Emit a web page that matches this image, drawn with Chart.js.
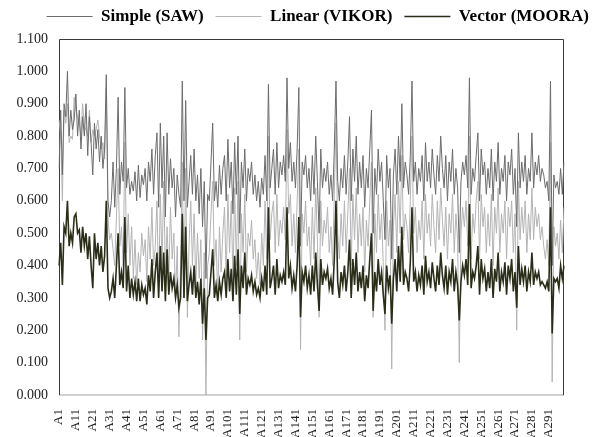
<!DOCTYPE html>
<html>
<head>
<meta charset="utf-8">
<script src="https://cdn.jsdelivr.net/npm/chart.js@4.4.1/dist/chart.umd.min.js"></script>
<style>
html,body{margin:0;padding:0;background:#fff;}
#wrap{width:593px;height:437px;}
</style>
</head>
<body>
<div id="wrap"><canvas id="c" width="593" height="437"></canvas></div>
<script>
const seriesNames = ["Simple (SAW)", "Linear (VIKOR)", "Vector (MOORA)"];
const categories = [];
for (let i = 1; i <= 300; i++) categories.push("A" + i);
const yTicks = [0, 0.1, 0.2, 0.3, 0.4, 0.5, 0.6, 0.7, 0.8, 0.9, 1.0, 1.1];

const saw = [
0.70,0.88,0.68,0.90,0.86,1.00,0.80,0.88,0.82,0.85,
0.93,0.80,0.88,0.76,0.86,0.80,0.90,0.74,0.86,0.78,
0.68,0.84,0.76,0.82,0.72,0.80,0.70,0.76,0.99,0.60,
0.55,0.60,0.72,0.58,0.70,0.92,0.62,0.72,0.66,0.95,
0.64,0.70,0.62,0.66,0.63,0.69,0.60,0.71,0.61,0.68,
0.65,0.70,0.60,0.72,0.66,0.76,0.62,0.74,0.81,0.58,
0.84,0.64,0.80,0.55,0.81,0.62,0.73,0.64,0.70,0.55,
0.68,0.62,0.58,0.97,0.60,0.91,0.58,0.66,0.74,0.62,
0.76,0.60,0.68,0.56,0.70,0.52,0.66,0.36,0.62,0.60,
0.72,0.84,0.60,0.66,0.58,0.71,0.62,0.70,0.74,0.60,
0.79,0.64,0.72,0.56,0.78,0.62,0.80,0.50,0.72,0.64,
0.76,0.60,0.70,0.66,0.72,0.62,0.68,0.60,0.66,0.58,
0.67,0.62,0.74,0.60,0.96,0.64,0.70,0.76,0.62,0.78,
0.64,0.72,0.68,0.74,0.66,0.98,0.70,0.78,0.66,0.72,
0.64,0.76,0.95,0.46,0.72,0.68,0.74,0.64,0.70,0.60,
0.74,0.62,0.80,0.66,0.50,0.76,0.64,0.70,0.66,0.72,
0.62,0.68,0.60,0.76,0.97,0.66,0.60,0.70,0.64,0.74,
0.62,0.72,0.86,0.60,0.76,0.66,0.80,0.62,0.72,0.64,
0.74,0.58,0.70,0.64,0.76,0.88,0.50,0.70,0.62,0.76,
0.66,0.72,0.60,0.48,0.74,0.64,0.70,0.42,0.68,0.76,
0.62,0.80,0.66,0.90,0.64,0.72,0.68,0.62,0.74,0.97,
0.66,0.72,0.62,0.70,0.66,0.74,0.60,0.78,0.66,0.72,
0.64,0.76,0.68,0.62,0.74,0.66,0.80,0.70,0.64,0.74,
0.60,0.72,0.66,0.76,0.62,0.70,0.64,0.44,0.66,0.72,
0.68,0.74,0.64,0.98,0.62,0.70,0.66,0.74,0.81,0.60,
0.76,0.68,0.72,0.62,0.70,0.64,0.76,0.60,0.72,0.66,
0.78,0.62,0.70,0.66,0.74,0.60,0.72,0.68,0.76,0.62,
0.70,0.52,0.81,0.64,0.72,0.66,0.74,0.62,0.70,0.66,
0.81,0.64,0.72,0.68,0.74,0.66,0.70,0.68,0.64,0.66,
0.60,0.97,0.40,0.68,0.64,0.66,0.62,0.70,0.62,0.72
];
const vikor = [
0.85,0.80,0.60,0.88,0.84,0.90,0.78,0.80,0.79,0.92,
0.88,0.86,0.84,0.80,0.90,0.83,0.82,0.80,0.88,0.78,
0.82,0.80,0.82,0.85,0.80,0.76,0.78,0.73,0.95,0.55,
0.48,0.50,0.45,0.40,0.55,0.70,0.46,0.52,0.40,0.78,
0.44,0.56,0.40,0.52,0.36,0.48,0.34,0.44,0.38,0.50,
0.43,0.48,0.35,0.52,0.42,0.58,0.40,0.46,0.60,0.32,
0.62,0.40,0.66,0.38,0.52,0.36,0.58,0.42,0.50,0.30,
0.46,0.18,0.40,0.72,0.30,0.70,0.24,0.46,0.60,0.40,
0.56,0.34,0.50,0.36,0.48,0.17,0.44,0.00,0.40,0.44,
0.56,0.66,0.40,0.48,0.30,0.52,0.38,0.50,0.58,0.36,
0.62,0.44,0.60,0.35,0.64,0.40,0.66,0.17,0.56,0.44,
0.62,0.38,0.50,0.46,0.54,0.42,0.48,0.36,0.44,0.34,
0.50,0.40,0.60,0.42,0.80,0.48,0.56,0.60,0.44,0.62,
0.46,0.54,0.50,0.58,0.48,0.82,0.56,0.62,0.46,0.56,
0.44,0.60,0.76,0.14,0.56,0.50,0.60,0.46,0.52,0.40,
0.58,0.42,0.64,0.48,0.24,0.60,0.46,0.54,0.50,0.58,
0.44,0.52,0.40,0.62,0.84,0.50,0.42,0.56,0.46,0.60,
0.44,0.56,0.70,0.40,0.62,0.48,0.64,0.44,0.56,0.46,
0.58,0.38,0.54,0.46,0.60,0.72,0.24,0.56,0.44,0.62,
0.48,0.56,0.40,0.20,0.60,0.46,0.54,0.08,0.52,0.62,
0.44,0.66,0.50,0.74,0.48,0.56,0.52,0.44,0.60,0.80,
0.50,0.58,0.44,0.54,0.48,0.60,0.42,0.62,0.50,0.56,
0.46,0.62,0.52,0.44,0.60,0.48,0.64,0.54,0.46,0.58,
0.42,0.56,0.50,0.62,0.44,0.56,0.48,0.10,0.50,0.58,
0.52,0.60,0.46,0.80,0.42,0.56,0.50,0.60,0.66,0.42,
0.62,0.52,0.58,0.44,0.56,0.46,0.62,0.40,0.58,0.50,
0.64,0.44,0.56,0.50,0.60,0.42,0.58,0.52,0.60,0.44,
0.56,0.20,0.66,0.48,0.58,0.50,0.60,0.44,0.56,0.48,
0.64,0.48,0.58,0.52,0.56,0.48,0.52,0.46,0.42,0.48,
0.40,0.78,0.04,0.52,0.46,0.50,0.42,0.54,0.44,0.58
];
const moora = [
0.40,0.47,0.34,0.52,0.50,0.60,0.46,0.50,0.47,0.55,
0.56,0.50,0.51,0.44,0.52,0.46,0.50,0.42,0.49,0.40,
0.33,0.50,0.42,0.47,0.40,0.46,0.38,0.43,0.60,0.33,
0.30,0.32,0.36,0.30,0.40,0.50,0.34,0.38,0.33,0.55,
0.32,0.40,0.30,0.36,0.31,0.35,0.29,0.36,0.29,0.34,
0.31,0.33,0.28,0.37,0.32,0.42,0.30,0.38,0.44,0.30,
0.46,0.32,0.44,0.29,0.45,0.31,0.38,0.33,0.36,0.30,
0.34,0.27,0.30,0.56,0.30,0.52,0.29,0.34,0.38,0.31,
0.40,0.30,0.35,0.28,0.36,0.22,0.33,0.17,0.30,0.31,
0.38,0.45,0.30,0.34,0.29,0.35,0.31,0.36,0.38,0.30,
0.42,0.32,0.39,0.29,0.43,0.31,0.45,0.25,0.40,0.33,
0.44,0.31,0.36,0.34,0.37,0.32,0.35,0.31,0.33,0.30,
0.36,0.32,0.40,0.31,0.58,0.33,0.36,0.40,0.31,0.42,
0.33,0.37,0.35,0.38,0.34,0.58,0.36,0.40,0.33,0.37,
0.32,0.40,0.55,0.24,0.38,0.35,0.40,0.33,0.37,0.31,
0.40,0.32,0.44,0.34,0.26,0.42,0.34,0.38,0.36,0.39,
0.33,0.36,0.31,0.42,0.60,0.35,0.30,0.38,0.34,0.40,
0.32,0.38,0.48,0.30,0.42,0.34,0.44,0.32,0.38,0.33,
0.40,0.29,0.37,0.33,0.42,0.50,0.26,0.38,0.32,0.42,
0.34,0.38,0.31,0.25,0.40,0.33,0.37,0.22,0.36,0.42,
0.32,0.46,0.35,0.52,0.34,0.38,0.36,0.32,0.41,0.58,
0.35,0.38,0.32,0.37,0.34,0.40,0.31,0.43,0.35,0.38,
0.33,0.41,0.36,0.32,0.40,0.34,0.44,0.37,0.33,0.40,
0.31,0.38,0.35,0.42,0.32,0.38,0.34,0.23,0.35,0.40,
0.37,0.42,0.34,0.59,0.33,0.38,0.36,0.40,0.46,0.31,
0.42,0.36,0.39,0.32,0.38,0.33,0.42,0.30,0.39,0.35,
0.44,0.32,0.38,0.35,0.41,0.31,0.40,0.36,0.42,0.32,
0.38,0.27,0.46,0.34,0.39,0.35,0.40,0.32,0.38,0.35,
0.44,0.34,0.38,0.36,0.38,0.34,0.35,0.34,0.33,0.35,
0.32,0.58,0.19,0.36,0.35,0.36,0.33,0.40,0.36,0.40
];

const frame = {
  id: 'frame',
  afterLayout(chart) {
    chart.legend.left += 8;
    chart.legend.right += 8;
    chart.legend.top -= 4;
    chart.legend.bottom -= 4;
  },
  beforeDatasetsDraw(chart) {
    const a = chart.chartArea, ctx = chart.ctx;
    ctx.save();
    ctx.strokeStyle = '#d0d0d0';
    ctx.lineWidth = 2;
    ctx.beginPath();
    ctx.moveTo(a.left, a.bottom);
    ctx.lineTo(a.right, a.bottom);
    ctx.stroke();
    ctx.strokeStyle = '#3a3a3a';
    ctx.lineWidth = 1;
    ctx.beginPath();
    ctx.moveTo(a.left + 0.5, a.bottom);
    ctx.lineTo(a.left + 0.5, a.top + 0.5);
    ctx.lineTo(a.right - 0.5, a.top + 0.5);
    ctx.lineTo(a.right - 0.5, a.bottom);
    ctx.stroke();
    ctx.restore();
  }
};

const serif = "'Liberation Serif', 'Times New Roman', serif";

new Chart(document.getElementById('c'), {
  type: 'line',
  data: {
    labels: categories,
    datasets: [
      { label: seriesNames[0], data: saw, borderColor: '#6c6c6c', backgroundColor: '#6c6c6c', borderWidth: 1, order: 1 },
      { label: seriesNames[1], data: vikor, borderColor: '#b4b4b4', backgroundColor: '#b4b4b4', borderWidth: 1, order: 2 },
      { label: seriesNames[2], data: moora, borderColor: '#2a2e18', backgroundColor: '#2a2e18', borderWidth: 1.6, order: 0 }
    ]
  },
  options: {
    responsive: false,
    animation: false,
    layout: { padding: { left: 0, right: 0, top: 0, bottom: 0 } },
    elements: { point: { radius: 0 }, line: { tension: 0 } },
    plugins: {
      tooltip: { enabled: false },
      legend: {
        position: 'top',
        align: 'end',
        labels: {
          usePointStyle: true,
          pointStyle: 'line',
          pointStyleWidth: 46,
          padding: 12,
          color: '#000',
          font: { family: serif, size: 17, weight: 'bold' },
          sort: (a, b) => a.datasetIndex - b.datasetIndex
        }
      }
    },
    scales: {
      x: {
        type: 'category',
        offset: false,
        grid: { display: false },
        border: { display: false },
        ticks: {
          autoSkip: false,
          minRotation: 90,
          maxRotation: 90,
          padding: 6,
          color: '#222',
          font: { family: serif, size: 13 },
          callback: (v, i) => (i % 10 === 0 ? categories[i] : null)
        },
        afterFit: (s) => { s.height = 42; }
      },
      y: {
        min: 0,
        max: 1.1,
        grid: { display: false },
        border: { display: false },
        afterBuildTicks: (s) => { s.ticks = yTicks.map(v => ({ value: v })); },
        ticks: {
          padding: 3,
          color: '#222',
          font: { family: serif, size: 14 },
          callback: (v) => Number(v).toFixed(3)
        },
        afterFit: (s) => { s.width = 59; }
      },
      yr: {
        position: 'right',
        display: true,
        min: 0,
        max: 1.1,
        grid: { display: false },
        border: { display: false },
        ticks: { display: false },
        afterFit: (s) => { s.width = 29; }
      }
    }
  },
  plugins: [frame]
});
</script>
</body>
</html>
